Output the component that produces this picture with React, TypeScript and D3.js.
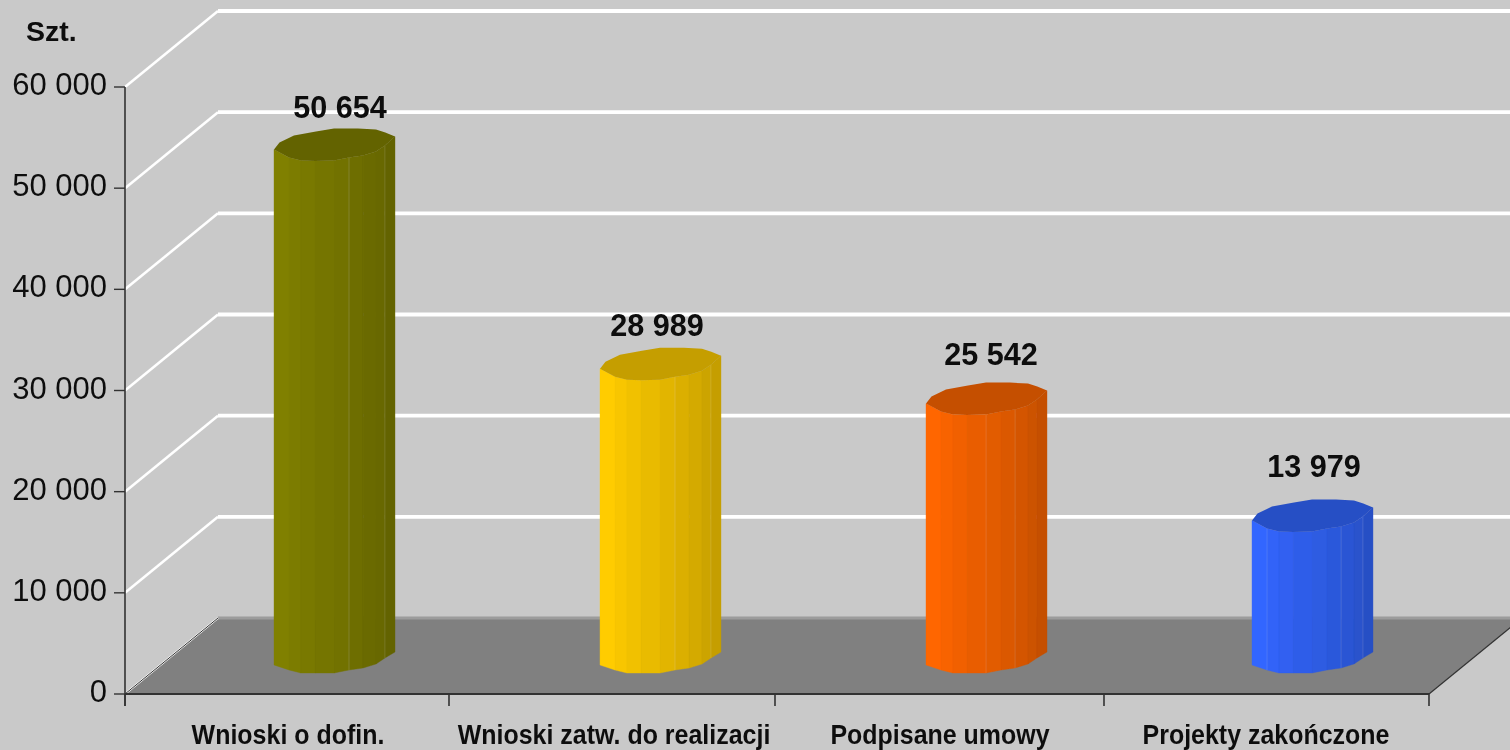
import React from "react";
import * as d3 from "d3";

const categories = ["Wnioski o dofin.", "Wnioski zatw. do realizacji", "Podpisane umowy", "Projekty zakończone"];
const values = [50654, 28989, 25542, 13979];
const valueLabels = ["50 654", "28 989", "25 542", "13 979"];
const barColors = ["#808000", "#ffcc00", "#ff6600", "#3366ff"];
const yTicks = [0, 10000, 20000, 30000, 40000, 50000, 60000];
const yTickLabels = ["0", "10 000", "20 000", "30 000", "40 000", "50 000", "60 000"];

// Presentation constants (not data)
const W = 1510, H = 750;
const FONT = "'Liberation Sans', Arial, sans-serif";
const DEPTH_X = 93, DEPTH_Y = 76;
const AXIS_LEFT = 125, AXIS_RIGHT = 1429, AXIS_Y0 = 694, AXIS_Y1 = 87;
const xTickScreen = [125, 449, 775, 1104, 1429];
const facetFrac = [0, 0.124, 0.223, 0.339, 0.496, 0.62, 0.736, 0.843, 0.917, 1];
const topFront = [0, 8, 11, 11.5, 11, 8, 6, 2, -4, -13];
const bottomFront = [0, 5, 8, 8, 8, 5, 3, -1, -7, -13];
const topBack: [number, number][] = [[1, -13], [0.92, -17], [0.843, -20], [0.694, -21], [0.496, -21], [0.347, -18], [0.165, -14], [0.045, -7], [0, 0]];
const highlightFacets = [[5, 8], [5, 8], [4, 6], [1, 6, 8]];
const labelDx = [66, 57, 65, 62];
const labelRise = [63.5, 65, 71, 76];

const y = d3.scaleLinear().domain([0, 60000]).range([AXIS_Y0, AXIS_Y1]);
const xBand = d3.scaleBand<string>().domain(categories).range([AXIS_LEFT, AXIS_RIGHT]);
const xBar = d3.scaleBand<string>().domain(categories)
  .range([AXIS_LEFT + DEPTH_X / 2, AXIS_RIGHT + DEPTH_X / 2])
  .paddingInner(0.629).paddingOuter(0.3145);

const poly = (pts: [number, number][]) => pts.map((p) => p.join(",")).join(" ");

function Bar({ i }: { i: number }) {
  const name = categories[i];
  const x0 = xBar(name)!;
  const w = xBar.bandwidth();
  const topY = y(values[i]) - 32;
  const botY = y(0) - 29;
  const base = barColors[i];
  const dark = d3.rgb(base).darker(0.72).formatHex();
  const shade = d3.scaleLinear<string>().domain([0, facetFrac.length - 2]).range([base, dark]);
  const xs = facetFrac.map((f) => x0 + f * w);
  return (
    <g shapeRendering="geometricPrecision">
      {facetFrac.slice(0, -1).map((_, k) => (
        <polygon
          key={k}
          fill={shade(k)}
          stroke={shade(k)}
          strokeWidth={0.4}
          points={poly([
            [xs[k], topY + topFront[k]],
            [xs[k + 1], topY + topFront[k + 1]],
            [xs[k + 1], botY + bottomFront[k + 1]],
            [xs[k], botY + bottomFront[k]],
          ])}
        />
      ))}
      {highlightFacets[i].map((k) => (
        <line key={k} x1={xs[k]} x2={xs[k]} y1={topY + topFront[k]} y2={botY + bottomFront[k]}
          stroke="#ffffff" strokeOpacity={0.14} strokeWidth={1} />
      ))}
      <polygon
        fill={dark}
        points={poly([
          ...facetFrac.map((f, k) => [x0 + f * w, topY + topFront[k]] as [number, number]),
          ...topBack.map(([f, d]) => [x0 + f * w, topY + d] as [number, number]),
        ])}
      />
    </g>
  );
}

export default function App() {
  return (
    <svg width={W} height={H} viewBox={`0 0 ${W} ${H}`}
      style={{ position: "fixed", left: 0, top: 0, display: "block", background: "#c9c9c9" }}>
      <defs>
        <filter id="soft" x="-5%" y="-5%" width="110%" height="110%">
          <feGaussianBlur stdDeviation="0.45" />
        </filter>
      </defs>
      <g filter="url(#soft)">
        <rect width={W} height={H} fill="#c9c9c9" />
        {/* floor */}
        <polygon fill="#808080" points={poly([
          [AXIS_LEFT, y(0)],
          [AXIS_LEFT + DEPTH_X, y(0) - DEPTH_Y],
          [AXIS_RIGHT + DEPTH_X, y(0) - DEPTH_Y],
          [AXIS_RIGHT, y(0)],
        ])} />
        <line x1={AXIS_LEFT + DEPTH_X} x2={W} y1={y(0) - DEPTH_Y} y2={y(0) - DEPTH_Y} stroke="#9c9c9c" strokeWidth={3} />
        <line x1={AXIS_LEFT} y1={y(0)} x2={AXIS_LEFT + DEPTH_X} y2={y(0) - DEPTH_Y} stroke="#ffffff" strokeWidth={2} />
        <line x1={AXIS_LEFT} y1={y(0)} x2={AXIS_LEFT + DEPTH_X} y2={y(0) - DEPTH_Y} stroke="#333333" strokeWidth={1} />
        <line x1={AXIS_RIGHT} y1={y(0)} x2={AXIS_RIGHT + DEPTH_X} y2={y(0) - DEPTH_Y} stroke="#333333" strokeWidth={1.2} />
        {/* wall grid */}
        {yTicks.slice(1).map((t) => (
          <g key={t} fill="none" stroke="#ffffff">
            <line x1={AXIS_LEFT} y1={y(t)} x2={AXIS_LEFT + DEPTH_X} y2={y(t) - DEPTH_Y} strokeWidth={2.6} />
            <line x1={AXIS_LEFT + DEPTH_X} y1={y(t) - DEPTH_Y} x2={W} y2={y(t) - DEPTH_Y} strokeWidth={3.8} />
          </g>
        ))}
        {/* axes */}
        <line x1={AXIS_LEFT} x2={AXIS_LEFT} y1={AXIS_Y1} y2={y(0) + 12} stroke="#333333" strokeWidth={1.6} />
        <line x1={AXIS_LEFT} x2={AXIS_RIGHT} y1={y(0)} y2={y(0)} stroke="#333333" strokeWidth={1.8} />
        {yTicks.map((t, k) => (
          <g key={t}>
            <line x1={114} x2={AXIS_LEFT} y1={y(t)} y2={y(t)} stroke="#333333" strokeWidth={1.4} />
            <text x={107} y={y(t) + 8} textAnchor="end" fontFamily={FONT} fontSize={31} fill="#111111">{yTickLabels[k]}</text>
          </g>
        ))}
        {xTickScreen.map((tx) => (
          <line key={tx} x1={tx} x2={tx} y1={y(0)} y2={y(0) + 12} stroke="#333333" strokeWidth={1.6} />
        ))}
        {/* bars */}
        {categories.map((_, i) => <Bar key={i} i={i} />)}
        {/* value labels */}
        {values.map((v, i) => (
          <text key={i} x={xBar(categories[i])! + labelDx[i]} y={y(v) - labelRise[i]} textAnchor="middle"
            fontFamily={FONT} fontWeight="bold" fontSize={30.6} fill="#0a0a0a">{valueLabels[i]}</text>
        ))}
        {/* category labels */}
        {categories.map((c) => (
          <text key={c} transform={`translate(${xBand(c)! + xBand.bandwidth() / 2},744) scale(0.925,1)`} textAnchor="middle"
            fontFamily={FONT} fontWeight="bold" fontSize={27} fill="#111111">{c}</text>
        ))}
        <text x={26} y={41} fontFamily={FONT} fontWeight="bold" fontSize={28.5} fill="#0a0a0a">Szt.</text>
      </g>
    </svg>
  );
}
